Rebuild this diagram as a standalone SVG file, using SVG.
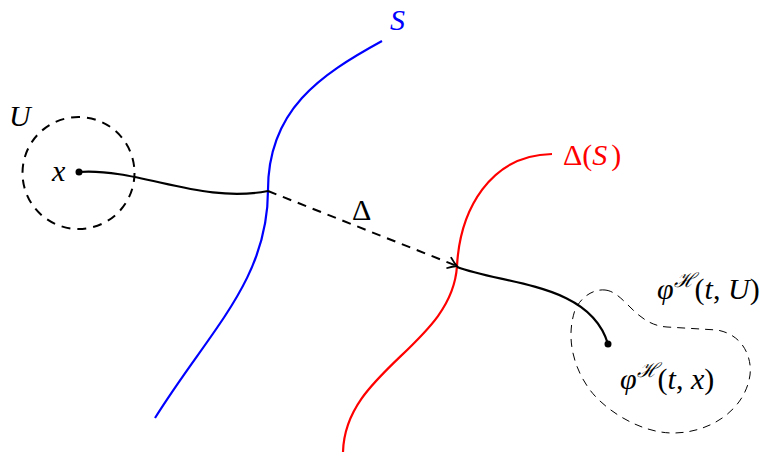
<svg xmlns="http://www.w3.org/2000/svg" width="767" height="456" viewBox="0 0 767 456">
<style>
text{font-family:'Liberation Serif','Times New Roman',serif;font-style:italic;font-size:30px}
.up{font-style:normal}
.c{fill:none;stroke-width:2.2}
</style>
<defs>
<marker id="to" markerWidth="14" markerHeight="14" refX="11" refY="7" orient="auto" markerUnits="userSpaceOnUse">
<path d="M2,1 Q7,5 11,7 Q7,9 2,13" fill="none" stroke="#000" stroke-width="1.8"/>
</marker>
</defs>
<rect width="767" height="456" fill="#fff"/>
<g id="U">
<circle cx="78.5" cy="173" r="56" fill="none" stroke="#000" stroke-width="2" stroke-dasharray="9,7"/>
<text x="9" y="126">U</text>
</g>
<g id="S">
<path class="c" stroke="#0000ff" d="M382,41 C320,75 268,110 268,190 C268,280 210,330 155,418"/>
<text x="390" y="30" fill="#0000ff">S</text>
</g>
<g id="DeltaS">
<path class="c" stroke="#ff0000" d="M552,154 C490,155 460,210 457,266 C452,345 345,370 343,452"/>
<text x="563" y="165" fill="#ff0000"><tspan class="up">Δ(</tspan>S<tspan class="up" dx="4">)</tspan></text>
</g>
<g id="flowU">
<path d="M605,290 C625,292 635,325 667,327 L717,330 C745,335 752,360 750,375 C745,410 710,433 673,433 C640,433 605,410 590,390 C575,370 565,340 575,310 C582,295 595,289 605,290 Z" fill="none" stroke="#000" stroke-width="1" stroke-dasharray="8,6"/>
<text x="657" y="299">φ<tspan font-size="20" dy="-12">ℋ</tspan><tspan class="up" dy="12">(</tspan>t<tspan class="up">, </tspan>U<tspan class="up">)</tspan></text>
</g>
<g id="x">
<circle cx="79" cy="172" r="3.5" fill="#000"/>
<text x="52" y="181">x</text>
</g>
<g id="flowx">
<circle cx="608" cy="344" r="3.5" fill="#000"/>
<text x="620" y="389">φ<tspan font-size="20" dy="-12">ℋ</tspan><tspan class="up" dy="12">(</tspan>t<tspan class="up">, </tspan>x<tspan class="up">)</tspan></text>
</g>
<g id="connectors">
<path class="c" stroke="#000" d="M79,172 C140,168 200,204 268,191"/>
<path fill="none" stroke="#000" stroke-width="2" stroke-dasharray="9,7" d="M268,191 L457,266" marker-end="url(#to)"/>
<text class="up" x="352" y="220">Δ</text>
<path class="c" stroke="#000" d="M457,267 C505,285 590,283 608,344"/>
</g>
</svg>
